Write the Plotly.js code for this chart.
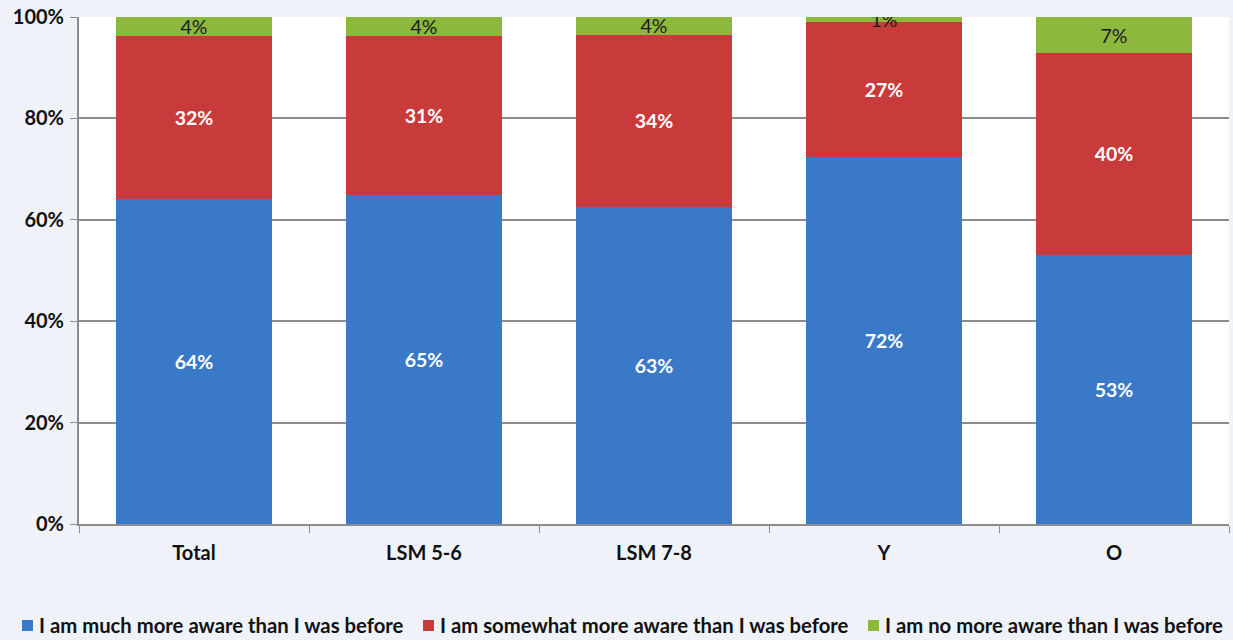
<!DOCTYPE html>
<html><head><meta charset="utf-8">
<script src="https://cdn.plot.ly/plotly-3.0.1.min.js"></script>
<style>html,body{margin:0;padding:0;background:#eff3f9;}</style>
</head><body>
<div id="chart" style="width:1233px;height:640px;"></div>
<script>
const categories = ["Total", "LSM 5-6", "LSM 7-8", "Y", "O"];
const muchMore = [64.1, 64.9, 62.5, 72.4, 53.1];
const somewhatMore = [32.2, 31.4, 34.0, 26.6, 39.8];
const noMore = [3.7, 3.7, 3.5, 1.0, 7.1];
const seriesNames = ["I am much more aware than I was before", "I am somewhat more aware than I was before", "I am no more aware than I was before"];
const seriesColors = ["#3a78c8", "#c83b3a", "#8db83e"];
const yTickVals = [0, 20, 40, 60, 80, 100];
const yTickText = ["0%", "20%", "40%", "60%", "80%", "100%"];

const font = "Lato, 'Open Sans', sans-serif";
function trace(vals, name, color, txtColor, weight) {
  return {
    type: "bar", x: categories, y: vals, name: name,
    marker: {color: color, line: {width: 0}},
    text: vals.map(v => Math.round(v) + "%"),
    textposition: "inside", insidetextanchor: "middle", constraintext: "none",
    textfont: {family: font, size: 19.5, color: txtColor, weight: weight},
    hoverinfo: "skip"
  };
}
const data = [
  trace(muchMore, seriesNames[0], seriesColors[0], "#ffffff", 700),
  trace(somewhatMore, seriesNames[1], seriesColors[1], "#ffffff", 700),
  trace(noMore, seriesNames[2], seriesColors[2], "#1a1a1a", 400)
];

// Manual legend (pixel layout converted to paper coords of plot area 79..1229 x, 17..524 y)
const PL = 79, PW = 1150, PB = 524, PH = 507;
const px = v => (v - PL) / PW;
const py = v => (PB - v) / PH;
const legendSquareX = [22, 423, 868];
const shapes = [], annotations = [];
seriesNames.forEach((n, i) => {
  shapes.push({type: "rect", xref: "paper", yref: "paper",
    x0: px(legendSquareX[i]), x1: px(legendSquareX[i] + 11), y0: py(631), y1: py(620),
    fillcolor: seriesColors[i], line: {width: 0}});
  annotations.push({xref: "paper", yref: "paper", x: px(legendSquareX[i] + 15), y: py(625),
    xanchor: "left", yanchor: "middle", showarrow: false, text: n,
    font: {family: font, size: 20.3, color: "#111", weight: 700}});
});

const layout = {
  barmode: "stack", bargap: 0.326,
  width: 1233, height: 640,
  margin: {l: 79, r: 4, t: 17, b: 116},
  paper_bgcolor: "#eff3f9", plot_bgcolor: "#ffffff",
  showlegend: false,
  shapes: shapes, annotations: annotations,
  xaxis: {type: "category", showgrid: false, showline: true, linecolor: "#8c8c8c", linewidth: 2,
    ticks: "outside", ticklen: 7, tickcolor: "#8c8c8c", tickson: "boundaries", ticklabelstandoff: 10,
    tickfont: {family: font, size: 20, color: "#111", weight: 700}},
  yaxis: {range: [0, 100], tickvals: yTickVals, ticktext: yTickText, showgrid: true,
    gridcolor: "#8c8c8c", gridwidth: 2, showline: true, linecolor: "#8c8c8c", linewidth: 2,
    ticks: "outside", ticklen: 7, tickcolor: "#8c8c8c", zeroline: false, ticklabelstandoff: 2,
    tickfont: {family: font, size: 20, color: "#111", weight: 700}}
};
Plotly.newPlot("chart", data, layout, {displayModeBar: false, staticPlot: true});
</script>
</body></html>
